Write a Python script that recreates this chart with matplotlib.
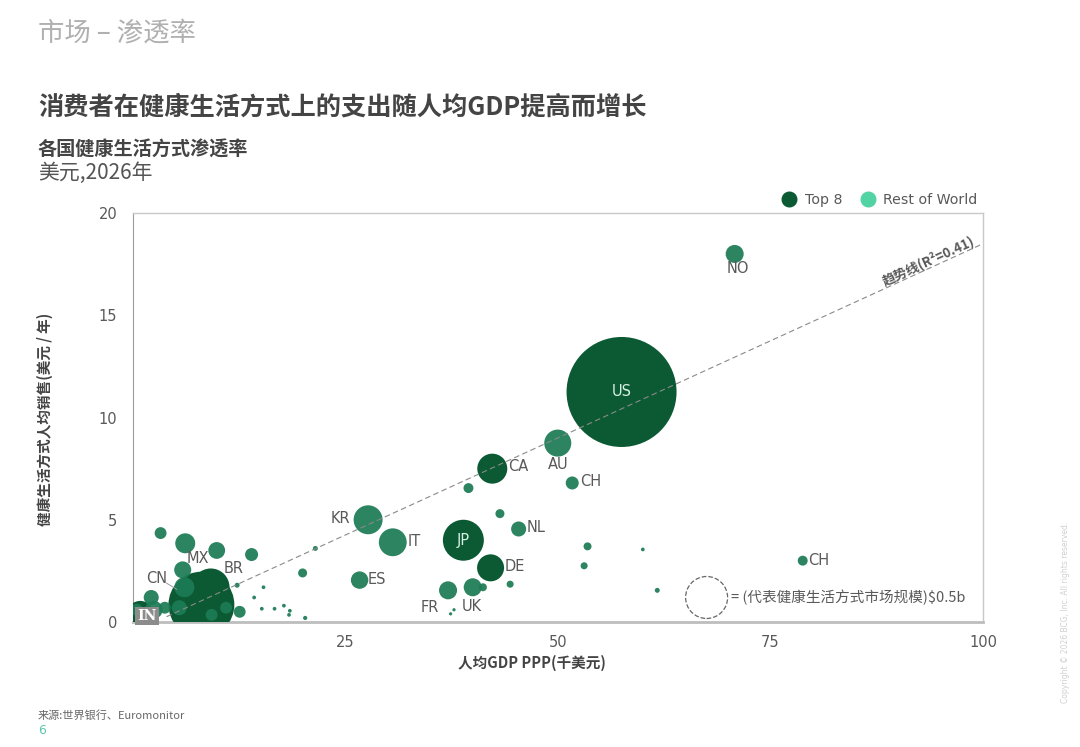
import numpy as np
import matplotlib
matplotlib.use('Agg')
import matplotlib.pyplot as plt
from matplotlib.lines import Line2D

plt.rcParams['font.family'] = ['DejaVu Sans', 'Noto Sans CJK SC']
CJK = ['Noto Sans CJK SC', 'DejaVu Sans']

# Top 8 markets: GDP per capita PPP (k USD), per-capita spend (USD/yr), market size ($b)
TOP_NAMES = ['US', 'CA', 'JP', 'DE', 'CN', 'IN', 'BR']
TOP_GDP = [57.5, 42.3, 38.9, 42.1, 8.1, 0.9, 9.2]
TOP_SPEND = [11.25, 7.5, 4.0, 2.65, 0.85, 0.4, 1.7]
TOP_SIZE = [3.43, 0.255, 0.476, 0.207, 1.23, 0.19, 0.40]

# Rest of world
ROW_GDP = [70.8, 50.0, 51.7, 39.5, 27.7, 30.6, 45.4, 43.2, 26.7, 37.1, 40.0, 41.2,
           44.4, 37.4, 37.8, 20.0, 21.5, 14.0, 53.5, 53.1, 60.0, 61.7, 78.8, 15.4,
           14.3, 15.2, 16.7, 17.8, 18.5, 18.4, 20.3, 12.3, 12.6, 3.3, 6.2, 9.9,
           5.9, 6.1, 2.2, 3.8, 5.5, 9.3, 11.0, 0.5, 2.5]
ROW_SPEND = [18.0, 8.75, 6.8, 6.55, 5.0, 3.9, 4.55, 5.3, 2.05, 1.55, 1.7, 1.7,
             1.85, 0.4, 0.6, 2.4, 3.6, 3.3, 3.7, 2.75, 3.55, 1.55, 3.0, 1.7,
             1.2, 0.65, 0.65, 0.8, 0.55, 0.35, 0.2, 1.8, 0.5, 4.35, 3.85, 3.5,
             2.55, 1.7, 1.2, 0.7, 0.7, 0.35, 0.7, 0.6, 0.6]
ROW_SIZE = [0.092, 0.207, 0.048, 0.028, 0.238, 0.22, 0.064, 0.023, 0.086, 0.092, 0.092, 0.018,
            0.014, 0.003, 0.003, 0.023, 0.007, 0.048, 0.018, 0.014, 0.004, 0.007, 0.028, 0.004,
            0.004, 0.004, 0.004, 0.004, 0.004, 0.004, 0.005, 0.007, 0.04, 0.04, 0.113, 0.08,
            0.082, 0.113, 0.064, 0.04, 0.064, 0.04, 0.04, 0.04, 0.09]

# country labels: name, x, y, horizontal alignment
LABELS = [('NO', 71.2, 17.3, 'center'), ('CA', 44.2, 7.6, 'left'), ('AU', 50.0, 7.7, 'center'),
          ('CH', 52.6, 6.85, 'left'), ('KR', 25.6, 5.05, 'right'), ('IT', 32.3, 3.95, 'left'),
          ('NL', 46.3, 4.6, 'left'), ('DE', 43.8, 2.7, 'left'), ('ES', 27.7, 2.1, 'left'),
          ('FR', 34.9, 0.73, 'center'), ('UK', 39.9, 0.78, 'center'), ('CH', 79.4, 3.0, 'left'),
          ('MX', 7.7, 3.1, 'center'), ('BR', 11.9, 2.6, 'center'), ('CN', 2.9, 2.15, 'center')]

TREND_SLOPE = 0.19
TREND_INTERCEPT = -0.5
REF_SIZE = 0.5
SCALE = 1829  # points^2 per $b

DARK = '#0b5a34'
REST = '#1c7b55'
REST_LEGEND = '#52d3a4'
GREY = '#595959'

fig = plt.figure(figsize=(10.8, 7.47), dpi=100)
ax = fig.add_axes([0.1227, 0.1673, 0.7875, 0.5475])

ax.scatter(TOP_GDP, TOP_SPEND, s=np.array(TOP_SIZE) * SCALE, color=DARK,
           edgecolors='none', zorder=3)
ax.scatter(ROW_GDP, ROW_SPEND, s=np.array(ROW_SIZE) * SCALE, color=REST, alpha=0.93,
           edgecolors='none', zorder=4)

tx = np.array([4, 100])
ax.plot(tx, TREND_INTERCEPT + TREND_SLOPE * tx, ls=(0, (5, 3)), color='#8a8a8a', lw=0.8, zorder=5)
ang = np.degrees(np.arctan(TREND_SLOPE))
ax.text(93.5, TREND_INTERCEPT + TREND_SLOPE * 93.5 + 0.42, '趋势线(R²=0.41)', rotation=ang,
        transform_rotates_text=True, rotation_mode='anchor', ha='center', va='center',
        fontsize=9.5, fontweight='bold', color=GREY, family=CJK, zorder=6)

for name, x, y, ha in LABELS:
    ax.text(x, y, name, ha=ha, va='center', fontsize=10.5, color=GREY, zorder=7)
ax.plot([4.0, 5.2], [1.9, 1.6], color='#9a9a9a', lw=0.7, zorder=7)
ax.text(TOP_GDP[0], TOP_SPEND[0], 'US', ha='center', va='center', fontsize=10.5, color='#d8efe4', zorder=7)
ax.text(TOP_GDP[2], TOP_SPEND[2], 'JP', ha='center', va='center', fontsize=10.5, color='#d8efe4', zorder=7)
ax.text(1.7, 0.3, 'IN', ha='center', va='center', fontsize=10, color='white', fontweight='bold',
        family='DejaVu Serif', zorder=8,
        bbox=dict(boxstyle='square,pad=0.15', fc='#8c8c8c', ec='none'))

# size reference
ax.scatter([67.5], [1.2], s=REF_SIZE * SCALE, facecolors='none', edgecolors='#666666',
           linewidths=0.9, linestyles='--', zorder=6)
ax.text(70.4, 1.2, '= (代表健康生活方式市场规模)$0.5b', ha='left', va='center', fontsize=10.5,
        color=GREY, family=CJK, zorder=7)

ax.set_xlim(0, 100)
ax.set_ylim(0, 20)
ax.set_xticks([25, 50, 75, 100])
ax.set_yticks([0, 5, 10, 15, 20])
ax.tick_params(length=0, labelsize=10.5, labelcolor=GREY, pad=9)
ax.tick_params(axis='y', pad=11)
for side in ['top', 'right']:
    ax.spines[side].set_color('#c8c8c8')
    ax.spines[side].set_linewidth(1.0)
ax.spines['left'].set_color('#9a9a9a')
ax.spines['bottom'].set_color('#bdbdbd')
ax.spines['bottom'].set_linewidth(2)

handles = [Line2D([], [], marker='o', ls='none', markersize=10.5, color=DARK, label='Top 8'),
           Line2D([], [], marker='o', ls='none', markersize=10.5, color=REST_LEGEND, label='Rest of World')]
leg = ax.legend(handles=handles, loc='lower right', bbox_to_anchor=(1.0, 1.0), ncol=2, frameon=False,
                fontsize=10.2, handletextpad=0.1, columnspacing=0.8, borderaxespad=0.0)
for t in leg.get_texts():
    t.set_color(GREY)

fig.text(532 / 1080, 1 - 663 / 747, '人均GDP PPP(千美元)', ha='center', va='center', fontsize=10.5,
         fontweight='bold', color='#444444', family=CJK)
fig.text(45 / 1080, 1 - 419 / 747, '健康生活方式人均销售(美元 / 年)', ha='center', va='center',
         rotation=90, fontsize=10.5, fontweight='bold', color='#444444', family=CJK)

fig.text(38 / 1080, 1 - 33 / 747, '市场 – 渗透率', ha='left', va='center', fontsize=19,
         style='italic', color='#b0b0b0', family=CJK)
fig.text(38 / 1080, 1 - 107 / 747, '消费者在健康生活方式上的支出随人均GDP提高而增长', ha='left', va='center',
         fontsize=18.2, fontweight='bold', color='#444444', family=CJK)
fig.text(38 / 1080, 1 - 150 / 747, '各国健康生活方式渗透率', ha='left', va='center',
         fontsize=13.8, fontweight='bold', color='#444444', family=CJK)
fig.text(38 / 1080, 1 - 173 / 747, '美元,2026年', ha='left', va='center',
         fontsize=15, color='#555555', family=CJK)
fig.text(38 / 1080, 1 - 716 / 747, '来源:世界银行、Euromonitor', ha='left', va='center',
         fontsize=8, color='#666666', family=CJK)
fig.text(38 / 1080, 1 - 731 / 747, '6', ha='left', va='center', fontsize=9, color='#5fc6b0')
fig.text(1065 / 1080, 1 - 612 / 747, 'Copyright © 2026 BCG, Inc. All rights reserved.', ha='center',
         va='center', rotation=90, fontsize=5.5, color='#d0d0d0')

fig.savefig('out.png', dpi=100)
